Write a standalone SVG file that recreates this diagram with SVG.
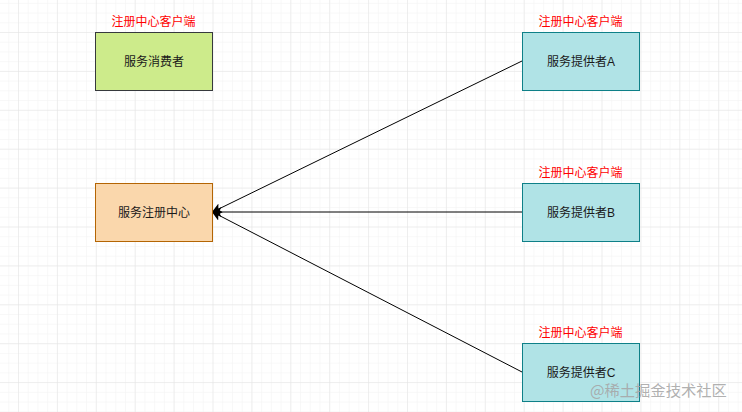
<svg xmlns="http://www.w3.org/2000/svg" width="742" height="412" viewBox="0 0 742 412">
  <defs>
    <pattern id="minor" x="18" y="32" width="9.725" height="9.725" patternUnits="userSpaceOnUse">
      <path d="M0 0H9.725M0 0V9.725" fill="none" stroke="#f2f2f2" stroke-width="1"/>
    </pattern>
    <pattern id="major" x="18" y="32" width="38.9" height="38.9" patternUnits="userSpaceOnUse">
      <path d="M0 0H38.9M0 0V38.9" fill="none" stroke="#e3e3e3" stroke-width="1"/>
    </pattern>
    <marker id="arrow" viewBox="0 0 10 10" refX="9" refY="5" markerWidth="10" markerHeight="10" markerUnits="userSpaceOnUse" orient="auto">
      <path d="M0 0 L10 5 L0 10 L2.5 5 Z" fill="#000"/>
    </marker>
    <style>
      .lbl { font-family: "Liberation Sans", "Noto Sans CJK SC", sans-serif; font-size: 12px; text-anchor: middle; }
      .red { fill: #ff0000; }
      .txt { fill: #1a1a1a; }
      .edge { fill: none; stroke: #000; stroke-width: 1; marker-end: url(#arrow); }
      .consumer { fill: #cdeb8b; stroke: #36393d; }
      .registry { fill: #fad7ac; stroke: #b46504; }
      .provider { fill: #b0e3e6; stroke: #0e8088; }
    </style>
  </defs>
  <rect width="742" height="412" fill="#fff"/>
  <rect width="742" height="412" fill="url(#minor)"/>
  <rect width="742" height="412" fill="url(#major)"/>

  <g id="connectors">
    <line class="edge" x1="522" y1="61" x2="212.5" y2="212"/>
    <line class="edge" x1="522" y1="212" x2="212.5" y2="212"/>
    <line class="edge" x1="522" y1="372" x2="212.5" y2="212"/>
  </g>

  <g id="consumer">
    <text class="lbl red" x="153.5" y="26">注册中心客户端</text>
    <rect class="consumer" x="95.5" y="32.5" width="117" height="58"/>
    <text class="lbl txt" x="154" y="66">服务消费者</text>
  </g>

  <g id="registry">
    <rect class="registry" x="95.5" y="183.5" width="117" height="58"/>
    <text class="lbl txt" x="154" y="216.5">服务注册中心</text>
  </g>

  <g id="providerA">
    <text class="lbl red" x="580.5" y="26">注册中心客户端</text>
    <rect class="provider" x="522.5" y="32.5" width="117" height="58"/>
    <text class="lbl txt" x="581" y="66">服务提供者A</text>
  </g>

  <g id="providerB">
    <text class="lbl red" x="580.5" y="177">注册中心客户端</text>
    <rect class="provider" x="522.5" y="183.5" width="117" height="58"/>
    <text class="lbl txt" x="581" y="216.5">服务提供者B</text>
  </g>

  <g id="providerC">
    <text class="lbl red" x="580.5" y="337">注册中心客户端</text>
    <rect class="provider" x="522.5" y="343.5" width="117" height="58"/>
    <text class="lbl txt" x="581" y="377">服务提供者C</text>
  </g>

  <text x="590" y="396" font-family="'Noto Sans CJK SC', sans-serif" font-size="15.3" fill="#a6a6a6" fill-opacity="0.9">@稀土掘金技术社区</text>
</svg>
